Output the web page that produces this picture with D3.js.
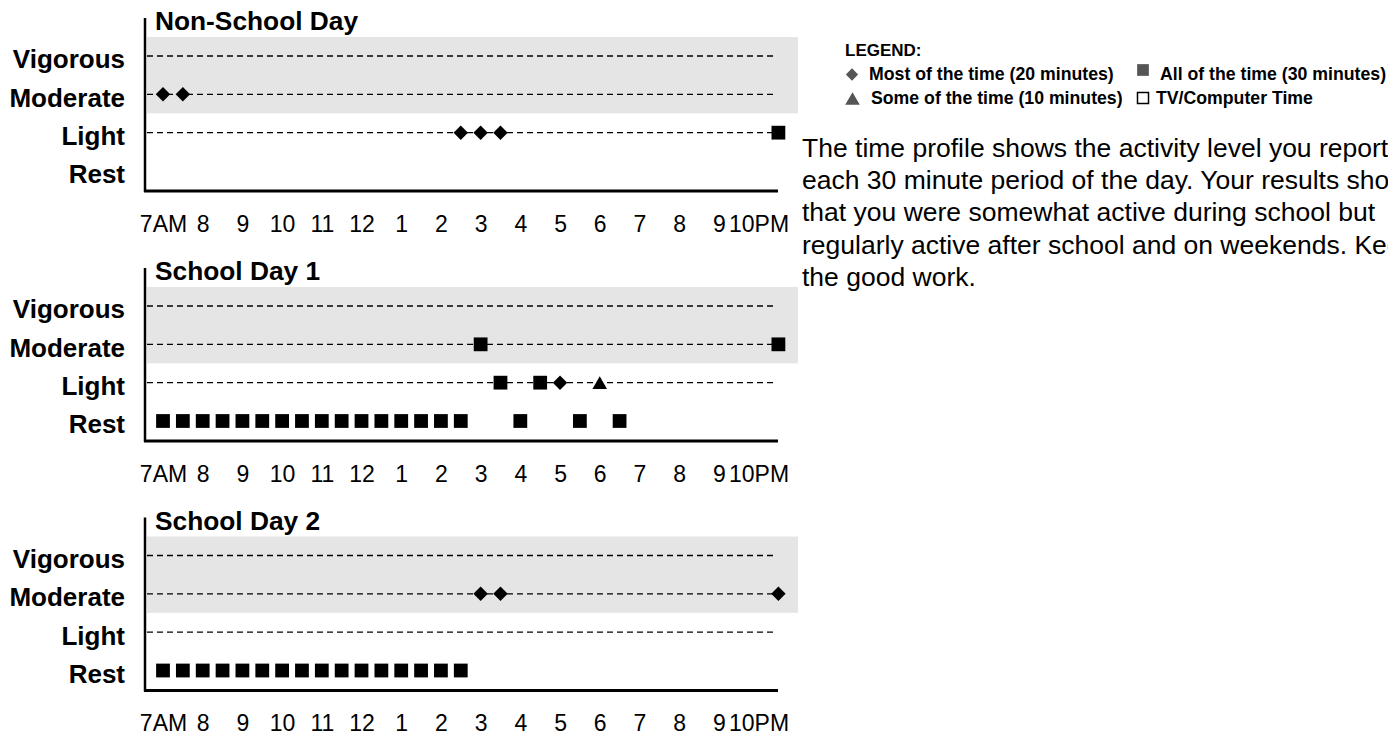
<!DOCTYPE html>
<html>
<head>
<meta charset="utf-8">
<script src="https://cdn.jsdelivr.net/npm/d3@7"></script>
<style>
  body { margin: 0; background: #ffffff; }
  svg { display: block; }
</style>
</head>
<body>
<svg id="chart" width="1388" height="734"></svg>
<script>
// ---------------- DATA ----------------
const levels = ["Vigorous", "Moderate", "Light", "Rest"];
const dayTitles = ["Non-School Day", "School Day 1", "School Day 2"];

// half-hour slot index (0 = 7:00 AM ... 31 = 10:30 PM) at which hour labels sit
const tickSlots = [0, 2, 4, 6, 8, 10, 12, 14, 16, 18, 20, 22, 24, 26, 28, 30];
const tickLabels = ["7AM", "8", "9", "10", "11", "12", "1", "2", "3", "4", "5", "6", "7", "8", "9", "10PM"];

// Non-School Day
const nonSchoolSlots   = [0, 1, 15, 16, 17, 31];
const nonSchoolLevels  = ["Moderate", "Moderate", "Light", "Light", "Light", "Light"];
const nonSchoolAmounts = ["Most", "Most", "Most", "Most", "Most", "All"];

// School Day 1
const schoolDay1Slots   = [0, 1, 2, 3, 4, 5, 6, 7, 8, 9, 10, 11, 12, 13, 14, 15, 16, 17, 18, 19, 20, 21, 22, 23, 31];
const schoolDay1Levels  = ["Rest", "Rest", "Rest", "Rest", "Rest", "Rest", "Rest", "Rest", "Rest", "Rest", "Rest", "Rest", "Rest", "Rest", "Rest", "Rest",
                           "Moderate", "Light", "Rest", "Light", "Light", "Rest", "Light", "Rest", "Moderate"];
const schoolDay1Amounts = ["All", "All", "All", "All", "All", "All", "All", "All", "All", "All", "All", "All", "All", "All", "All", "All",
                           "All", "All", "All", "All", "Most", "All", "Some", "All", "All"];

// School Day 2
const schoolDay2Slots   = [0, 1, 2, 3, 4, 5, 6, 7, 8, 9, 10, 11, 12, 13, 14, 15, 16, 17, 31];
const schoolDay2Levels  = ["Rest", "Rest", "Rest", "Rest", "Rest", "Rest", "Rest", "Rest", "Rest", "Rest", "Rest", "Rest", "Rest", "Rest", "Rest", "Rest",
                           "Moderate", "Moderate", "Moderate"];
const schoolDay2Amounts = ["All", "All", "All", "All", "All", "All", "All", "All", "All", "All", "All", "All", "All", "All", "All", "All",
                           "Most", "Most", "Most"];

// Legend
const legendTitle = "LEGEND:";
const legendLabels = ["Most of the time (20 minutes)", "All of the time (30 minutes)", "Some of the time (10 minutes)", "TV/Computer Time"];
const legendSymbols = ["Most", "All", "Some", "TV"];

// Commentary
const commentLines = [
  "The time profile shows the activity level you reported for",
  "each 30 minute period of the day. Your results show",
  "that you were somewhat active during school but",
  "regularly active after school and on weekends. Keep up",
  "the good work."
];

// ---------------- DRAWING ----------------
const FONT = "'Liberation Sans', Arial, Helvetica, sans-serif";
const svg = d3.select("#chart").style("font-family", FONT);

const days = [
  { title: dayTitles[0], slots: nonSchoolSlots, levels: nonSchoolLevels, amounts: nonSchoolAmounts },
  { title: dayTitles[1], slots: schoolDay1Slots, levels: schoolDay1Levels, amounts: schoolDay1Amounts },
  { title: dayTitles[2], slots: schoolDay2Slots, levels: schoolDay2Levels, amounts: schoolDay2Amounts }
];
const panelTop = [0, 250, 499.5];

const x = d3.scaleLinear().domain([0, 31]).range([163, 778.4]);
const y = d3.scalePoint().domain(levels).range([56, 171]);

const axisX = 145, axisY = 191;

function markerPath(kind, scale) {
  scale = scale || 1;
  if (kind === "All") return d3.symbol(d3.symbolSquare, 190 * scale * scale)();
  if (kind === "Most") return d3.symbol(d3.symbolSquare, 104 * scale * scale)();
  if (kind === "Some") return d3.symbol(d3.symbolTriangle, 92 * scale * scale)();
  return d3.symbol(d3.symbolSquare, 190 * scale * scale)();
}
function triOffset(scale) {
  const size = 92 * scale * scale;
  return Math.sqrt(size / (Math.sqrt(3) * 3)) / 2;
}

days.forEach((day, di) => {
  const g = svg.append("g").attr("transform", `translate(0,${panelTop[di]})`);

  // grey band behind Vigorous / Moderate
  g.append("rect")
    .attr("x", axisX + 2)
    .attr("y", y("Vigorous") - 19)
    .attr("width", 798 - axisX - 2)
    .attr("height", y("Moderate") - y("Vigorous") + 38)
    .attr("fill", "#e5e5e5");

  // dashed level lines
  g.selectAll("line.level")
    .data(levels.filter(l => l !== "Rest"))
    .join("line")
    .attr("class", "level")
    .attr("x1", axisX + 2).attr("x2", 776)
    .attr("y1", d => y(d)).attr("y2", d => y(d))
    .attr("stroke", "#000").attr("stroke-width", 1.3)
    .attr("stroke-dasharray", "6,4");

  // y axis labels
  const yAxis = g.append("g")
    .attr("transform", `translate(${axisX},0)`)
    .call(d3.axisLeft(y).tickSize(0).tickPadding(20));
  yAxis.select(".domain").remove();
  yAxis.selectAll("text")
    .attr("font-family", FONT).attr("font-size", 26).attr("font-weight", "bold")
    .attr("fill", "#000").attr("dy", "0.46em");

  // x axis labels
  const xAxis = g.append("g")
    .attr("transform", `translate(0,${axisY})`)
    .call(d3.axisBottom(x).tickValues(tickSlots).tickFormat((d, i) => tickLabels[i]).tickSize(0).tickPadding(24.5));
  xAxis.select(".domain").remove();
  xAxis.selectAll("text")
    .attr("font-family", FONT).attr("font-size", 23).attr("fill", "#000");

  // axis lines
  g.append("line")
    .attr("x1", axisX).attr("x2", axisX)
    .attr("y1", 18).attr("y2", axisY + 1)
    .attr("stroke", "#000").attr("stroke-width", 2.5);
  g.append("line")
    .attr("x1", axisX - 1).attr("x2", 778)
    .attr("y1", axisY).attr("y2", axisY)
    .attr("stroke", "#000").attr("stroke-width", 3);

  // title
  g.append("text")
    .attr("x", 155).attr("y", 30)
    .attr("font-size", 26.3).attr("font-weight", "bold").attr("fill", "#000")
    .text(day.title);

  // markers
  const pts = day.slots.map((s, i) => ({ slot: s, level: day.levels[i], amount: day.amounts[i] }));
  g.selectAll("path.mark")
    .data(pts)
    .join("path")
    .attr("class", "mark")
    .attr("d", d => markerPath(d.amount))
    .attr("transform", d => {
      const cx = x(d.slot), cy = y(d.level) + (d.amount === "Some" ? triOffset(1) : 0);
      return `translate(${cx},${cy})` + (d.amount === "Most" ? " rotate(45)" : "");
    })
    .attr("fill", "#000");
});

// ---------------- LEGEND ----------------
const lg = svg.append("g");
lg.append("text")
  .attr("x", 845).attr("y", 56)
  .attr("font-size", 17).attr("font-weight", "bold").attr("fill", "#000")
  .text(legendTitle);

const legendPos = [
  { mx: 852, my: 74.5, tx: 869, ty: 80 },
  { mx: 1143, my: 70, tx: 1160, ty: 80 },
  { mx: 852.5, my: 98.5, tx: 871, ty: 104 },
  { mx: 1143, my: 98, tx: 1156, ty: 104 }
];
legendLabels.forEach((lab, i) => {
  const p = legendPos[i];
  const kind = legendSymbols[i];
  if (kind === "TV") {
    lg.append("rect")
      .attr("x", p.mx - 5.5).attr("y", p.my - 5.5)
      .attr("width", 11).attr("height", 11)
      .attr("fill", "#fff").attr("stroke", "#000").attr("stroke-width", 1.5);
  } else {
    const s = kind === "All" ? 0.85 : (kind === "Most" ? 0.85 : 1.0);
    lg.append("path")
      .attr("d", markerPath(kind, s))
      .attr("transform", `translate(${p.mx},${p.my + (kind === "Some" ? triOffset(s) : 0)})` + (kind === "Most" ? " rotate(45)" : ""))
      .attr("fill", "#555");
  }
  lg.append("text")
    .attr("x", p.tx).attr("y", p.ty)
    .attr("font-size", 17.7).attr("font-weight", "bold").attr("fill", "#000")
    .text(lab);
});

// ---------------- COMMENTARY ----------------
svg.append("g").selectAll("text")
  .data(commentLines)
  .join("text")
  .attr("x", 802)
  .attr("y", (d, i) => 157 + i * 32.2)
  .attr("font-size", 26.5).attr("fill", "#000")
  .text(d => d);
</script>
</body>
</html>
